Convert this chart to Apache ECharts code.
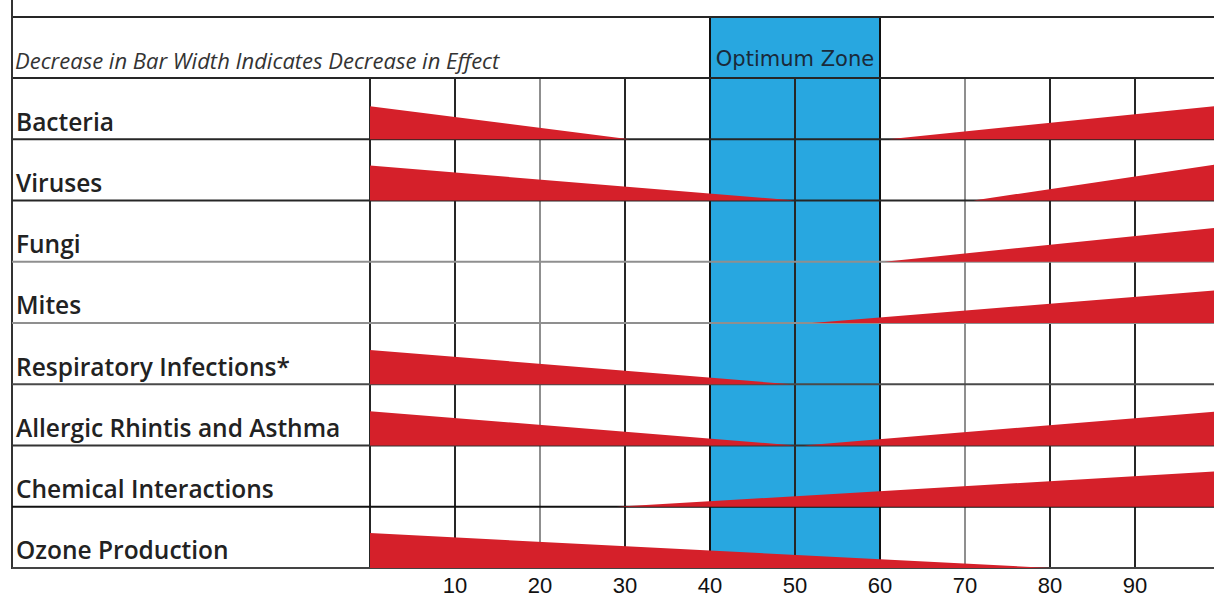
<!DOCTYPE html>
<html><head><meta charset="utf-8">
<script src="https://cdn.jsdelivr.net/npm/echarts@6/dist/echarts.min.js"></script>
<style>html,body{margin:0;padding:0;background:#fff}#c{width:1214px;height:597px}</style>
</head><body><div id="c"></div>
<script>
// ---- data ----
const categories = ['Bacteria','Viruses','Fungi','Mites','Respiratory Infections*','Allergic Rhintis and Asthma','Chemical Interactions','Ozone Production'];
// wedge: [rowIndex, startRH, widthAtStart, endRH, widthAtEnd]  (width = share of row height)
const lowHumidityWedges = [
  [0, 0, 0.54, 30.5, 0],
  [1, 0, 0.57, 50, 0],
  [4, 0, 0.56, 49.5, 0],
  [5, 0, 0.56, 50, 0],
  [7, 0, 0.57, 80, 0]
];
const highHumidityWedges = [
  [0, 61, 0, 100, 0.55],
  [1, 71, 0, 100, 0.6],
  [2, 60.5, 0, 100, 0.56],
  [3, 52, 0, 100, 0.54],
  [5, 51, 0, 100, 0.56],
  [6, 29, 0, 100, 0.58]
];
const optimumZone = [40, 60];
const xMin = 0, xMax = 100, xStep = 10;
const headerText = 'Decrease in Bar Width Indicates Decrease in Effect';
const zoneLabel = 'Optimum Zone';

// ---- styles ----
const RED = '#D5202A', BLUE = '#28A7E0', DARK = '#262626', GREY = '#8f8f8f';
const rowLineColors = [DARK, DARK, GREY, GREY, '#4a4a4a', '#333', '#111', '#444'];
const vLineColors = [DARK, DARK, GREY, DARK, '#111', DARK, '#111', GREY, DARK, DARK, DARK];

const chart = echarts.init(document.getElementById('c'), null, {renderer: 'svg'});

function wedgeItem(params, api) {
  const ci = api.value(0);
  const p0 = api.coord([api.value(1), ci]);
  const p1 = api.coord([api.value(3), ci]);
  const bh = api.size([0, 1])[1];
  const yb = p0[1] + bh / 2;
  return {
    type: 'polygon',
    shape: {points: [[p0[0], yb], [p0[0], yb - api.value(2) * bh], [p1[0], yb - api.value(4) * bh], [p1[0], yb]]},
    style: {fill: RED}
  };
}

const option = {
  animation: false,
  title: {
    text: headerText, left: 15, top: 49, padding: 0,
    textStyle: {fontFamily: 'Open Sans', fontStyle: 'italic', fontWeight: 'normal', fontSize: 22, color: '#333'}
  },
  grid: [
    {left: 370, width: 850, top: 78, bottom: 29, outerBoundsMode: 'none', containLabel: false},
    {left: 370, width: 850, top: 17, height: 61, outerBoundsMode: 'none', containLabel: false}
  ],
  xAxis: [
    {gridIndex: 0, type: 'value', min: xMin, max: xMax, interval: xStep, z: 3,
      axisLine: {show: false}, axisTick: {show: false},
      splitLine: {show: true, lineStyle: {color: vLineColors, width: 2}},
      axisLabel: {showMinLabel: false, showMaxLabel: false, margin: 6, fontFamily: 'Liberation Sans', fontSize: 22, color: '#111'}},
    {gridIndex: 1, type: 'value', min: xMin, max: xMax, show: false}
  ],
  yAxis: [
    {gridIndex: 0, type: 'category', data: categories, inverse: true, z: 3,
      axisLine: {show: true, lineStyle: {color: DARK, width: 2}}, axisTick: {show: false}, splitLine: {show: false},
      axisLabel: {align: 'left', margin: 354, verticalAlign: 'top', lineHeight: 25,
        fontFamily: 'Open Sans', fontWeight: 600, fontSize: 24.5, color: '#222'}},
    {gridIndex: 1, type: 'category', data: ['header'], show: false}
  ],
  series: [
    { // optimum zone through the rows
      type: 'custom', xAxisIndex: 0, yAxisIndex: 0, z: 1, silent: true,
      encode: {x: [0, 1], y: 2},
      data: [[optimumZone[0], optimumZone[1], 0]],
      renderItem: function (params, api) {
        const cs = params.coordSys;
        const a = api.coord([api.value(0), 0]), b = api.coord([api.value(1), 0]);
        return {type: 'rect', shape: {x: a[0], y: cs.y, width: b[0] - a[0], height: cs.height}, style: {fill: BLUE}};
      }
    },
    { // header row: frame + optimum zone box
      type: 'custom', xAxisIndex: 1, yAxisIndex: 1, z: 4, silent: true,
      encode: {x: [0, 1], y: 2},
      data: [[optimumZone[0], optimumZone[1], 0]],
      renderItem: function (params, api) {
        const cs = params.coordSys;
        const a = api.coord([api.value(0), 0]), b = api.coord([api.value(1), 0]);
        return {type: 'group', children: [
          {type: 'rect', shape: {x: a[0], y: cs.y, width: b[0] - a[0], height: cs.height}, style: {fill: BLUE, stroke: '#111', lineWidth: 2}},
          {type: 'text', style: {x: (a[0] + b[0]) / 2, y: cs.y + 42, text: zoneLabel, align: 'center', verticalAlign: 'middle',
            fontFamily: 'DejaVu Sans', fontSize: 21, fill: '#1a2a3a'}},
          {type: 'line', shape: {x1: 12, y1: cs.y, x2: 1214, y2: cs.y}, style: {stroke: DARK, lineWidth: 2}}
        ]};
      }
    },
    { // row separators + left border
      type: 'custom', xAxisIndex: 0, yAxisIndex: 0, z: 4, silent: true,
      encode: {x: 0, y: 1},
      data: categories.map((c, i) => [0, i]),
      renderItem: function (params, api) {
        const cs = params.coordSys;
        const i = api.value(1);
        const p = api.coord([0, i]);
        const bh = api.size([0, 1])[1];
        const yb = p[1] + bh / 2;
        const kids = [{type: 'line', shape: {x1: 12, y1: yb, x2: 1214, y2: yb}, style: {stroke: rowLineColors[i], lineWidth: 2}}];
        if (i === 0) {
          kids.push({type: 'line', shape: {x1: 12, y1: yb - bh, x2: 1214, y2: yb - bh}, style: {stroke: DARK, lineWidth: 2}});
          kids.push({type: 'line', shape: {x1: 12, y1: 0, x2: 12, y2: cs.y + cs.height + 1}, style: {stroke: '#333', lineWidth: 2}});
        }
        return {type: 'group', children: kids};
      }
    },
    {
      name: 'Low humidity effect', type: 'custom', xAxisIndex: 0, yAxisIndex: 0, z: 5,
      encode: {x: [1, 3], y: 0}, data: lowHumidityWedges, renderItem: wedgeItem
    },
    {
      name: 'High humidity effect', type: 'custom', xAxisIndex: 0, yAxisIndex: 0, z: 5,
      encode: {x: [1, 3], y: 0}, data: highHumidityWedges, renderItem: wedgeItem
    }
  ]
};
chart.setOption(option);
</script>
</body></html>
